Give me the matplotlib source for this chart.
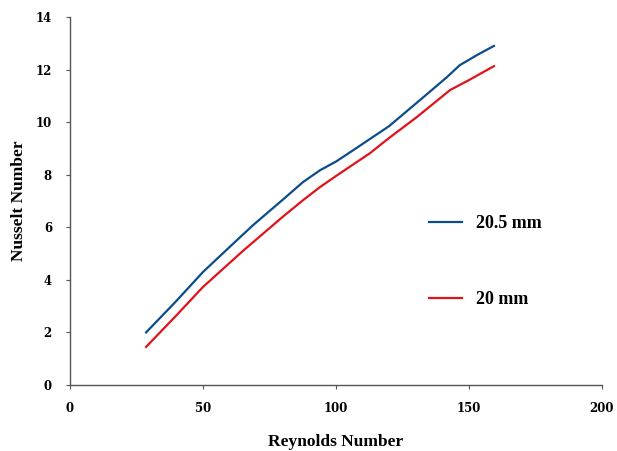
"""
Nusselt number against Reynolds number for two diameters
"""

import matplotlib.pyplot as plt

re_205 = [28.6, 40, 50, 60, 68.8, 80, 87.6, 94, 100, 106, 120, 131.6, 141.7, 146.6, 153, 159.4]
nu_205 = [2.0, 3.2, 4.3, 5.25, 6.08, 7.05, 7.72, 8.17, 8.5, 8.9, 9.85, 10.84, 11.71, 12.17, 12.55, 12.9]

re_20 = [28.6, 40, 50, 65, 80, 87.6, 94, 100, 112.8, 120, 130.5, 142.9, 150, 159.4]
nu_20 = [1.45, 2.65, 3.73, 5.1, 6.4, 7.03, 7.53, 7.95, 8.82, 9.4, 10.2, 11.22, 11.6, 12.13]

x_ticks = [0, 50, 100, 150, 200]
y_ticks = [0, 2, 4, 6, 8, 10, 12, 14]


def main():
    plt.rcParams['font.family'] = ['Liberation Serif', 'DejaVu Serif']

    fig = plt.figure(figsize=(6.17, 4.51), dpi=100)
    ax = fig.add_axes([0.1135, 0.1463, 0.862, 0.816])

    ax.plot(re_205, nu_205, color='#0b4d8c', lw=1.6, label='20.5 mm')
    ax.plot(re_20, nu_20, color='#e0121b', lw=1.6, label='20 mm')

    ax.set_xlim(0, 200)
    ax.set_ylim(0, 14)
    ax.set_xticks(x_ticks)
    ax.set_yticks(y_ticks)

    # only left and bottom axis lines
    for side in ['top', 'right']:
        ax.spines[side].set_visible(False)
    for side in ['left', 'bottom']:
        ax.spines[side].set_color('#555555')
        ax.spines[side].set_linewidth(1.0)

    ax.tick_params(direction='out', length=3, color='#555555', labelsize=8.5)
    ax.tick_params(axis='x', pad=9)
    ax.tick_params(axis='y', pad=10)
    for lab in ax.get_xticklabels() + ax.get_yticklabels():
        lab.set_fontweight('bold')
        lab.set_family('DejaVu Serif')

    ax.set_xlabel('Reynolds Number', fontsize=12.5, fontweight='bold', labelpad=14)
    ax.set_ylabel('Nusselt Number', fontsize=12.5, fontweight='bold', labelpad=6)

    ax.legend(loc='upper left', bbox_to_anchor=(0.645, 0.505), frameon=False,
              handlelength=1.8, handletextpad=0.8, labelspacing=3.25,
              prop={'family': 'Liberation Serif', 'weight': 'bold', 'size': 13})

    fig.savefig('out.png', dpi=100)


if __name__ == "__main__":
    main()
